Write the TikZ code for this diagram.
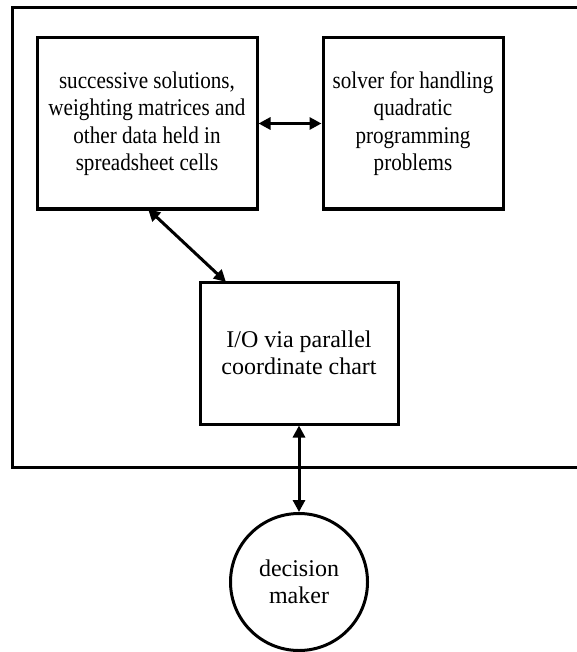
\documentclass[tikz,border=0pt]{standalone}
\usepackage{fontspec}
\setmainfont{Liberation Serif}
\newfontfamily\condfont[FakeStretch=0.88]{Liberation Serif}
\usetikzlibrary{arrows.meta}
\begin{document}
\begin{tikzpicture}[x=1pt,y=-1pt,
  every node/.style={font=\fontsize{24}{27.5}\selectfont},
  blk/.style={draw,line width=3pt,rectangle,align=center,inner sep=0pt},
  cond/.style={font=\fontsize{24}{27.5}\condfont},
  dm/.style={draw,line width=3pt,circle,align=center,inner sep=0pt},
  conn/.style={line width=3pt,{Triangle[length=12pt,width=12pt]}-{Triangle[length=12pt,width=12pt]}}]
\useasboundingbox (0,0) rectangle (577,652);
\draw[line width=3pt] (580,8) -- (12,8) -- (12,467) -- (580,467);
\node[blk,cond,minimum width=220pt,minimum height=171pt] (data) at (147,123.5) {successive solutions,\\weighting matrices and\\other data held in\\spreadsheet cells};
\node[blk,cond,minimum width=180pt,minimum height=171pt] (solver) at (413,123.5) {solver for handling\\quadratic\\programming\\problems};
\node[blk,minimum width=198pt,minimum height=142pt] (io) at (299,353) {I/O via parallel\\coordinate chart};
\node[dm,minimum size=137pt] (maker) at (299,582) {decision\\maker};
\draw[conn] (data.east) -- (solver.west);
\draw[conn] (148,209) -- (226,282);
\draw[conn] (io.south) -- (maker.north);
\end{tikzpicture}
\end{document}
